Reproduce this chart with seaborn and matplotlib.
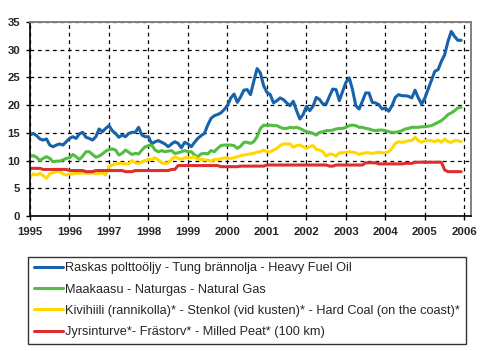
import numpy as np
import pandas as pd
import matplotlib
matplotlib.use("Agg")
import matplotlib.pyplot as plt
import seaborn as sns
from matplotlib.lines import Line2D

years = ["1995", "1996", "1997", "1998", "1999", "2000", "2001", "2002",
         "2003", "2004", "2005", "2006"]

heavy_fuel_oil = [
    14.6, 14.9, 14.5, 13.9, 13.7, 13.9, 12.8, 12.5, 12.8, 13.0, 12.8, 13.4,
    14.0, 14.3, 14.0, 14.8, 15.1, 14.2, 14.0, 13.7, 14.3, 15.7, 15.2, 15.8,
    16.3, 15.4, 14.9, 14.2, 14.6, 14.3, 14.9, 15.1, 15.1, 16.0, 14.6, 14.3,
    14.3, 13.0, 13.4, 13.6, 13.3, 13.0, 12.5, 13.0, 13.4, 13.1, 12.3, 13.3,
    13.0, 12.5, 13.3, 14.0, 14.5, 14.9, 16.4, 17.6, 18.1, 18.3, 18.6, 19.2,
    19.9, 21.3, 22.0, 20.5, 21.5, 22.7, 22.8, 21.9, 24.3, 26.6, 25.8, 23.5,
    22.3, 21.9, 20.4, 20.8, 21.3, 21.0, 20.4, 19.9, 20.7, 19.0, 17.5, 18.3,
    19.8, 19.0, 19.8, 21.4, 21.0, 20.2, 20.2, 21.6, 22.9, 22.8, 20.8, 22.5,
    24.1, 24.9, 22.8, 19.9, 19.3, 20.7, 22.2, 22.2, 20.5, 20.4, 20.1, 19.3,
    19.5, 18.9, 19.9, 21.4, 21.9, 21.7, 21.7, 21.6, 21.3, 22.7, 21.3, 20.2,
    21.3, 22.9, 24.5, 26.1, 26.4, 27.9, 29.1, 31.5, 33.3, 32.4, 31.7, 31.7,
]

natural_gas = [
    10.7, 10.9, 10.6, 10.0, 10.4, 10.7, 10.4, 9.8, 9.9, 9.9, 10.1, 10.4,
    10.5, 11.1, 10.7, 10.2, 10.8, 11.6, 11.6, 11.1, 10.6, 10.8, 11.2, 11.7,
    12.0, 12.1, 11.9, 11.0, 11.3, 11.9, 11.5, 11.1, 11.3, 11.2, 11.9, 12.5,
    12.7, 12.8, 11.9, 11.6, 11.8, 11.6, 11.7, 11.8, 11.3, 11.4, 11.6, 11.8,
    11.6, 11.6, 11.0, 10.7, 11.2, 11.3, 11.2, 11.8, 11.6, 12.2, 12.7, 12.8,
    12.8, 12.8, 12.7, 12.2, 12.6, 13.3, 13.3, 13.1, 13.4, 14.3, 15.8, 16.4,
    16.3, 16.4, 16.3, 16.3, 16.0, 15.8, 15.8, 16.0, 15.9, 16.0, 15.8, 15.5,
    15.2, 15.1, 14.9, 14.6, 15.1, 15.2, 15.4, 15.4, 15.5, 15.7, 15.8, 15.8,
    16.0, 16.3, 16.4, 16.3, 16.0, 16.0, 15.8, 15.7, 15.5, 15.4, 15.5, 15.5,
    15.4, 15.2, 15.1, 15.1, 15.2, 15.4, 15.7, 15.8, 16.0, 16.0, 16.0, 16.1,
    16.1, 16.2, 16.3, 16.6, 16.9, 17.2, 17.7, 18.3, 18.6, 19.0, 19.5, 19.6,
]

hard_coal = [
    7.1, 7.6, 7.4, 7.7, 7.3, 6.8, 7.6, 7.8, 8.0, 8.0, 7.6, 7.4,
    7.6, 7.6, 7.7, 7.7, 7.8, 7.7, 7.7, 7.8, 7.6, 7.7, 7.8, 7.4,
    8.9, 9.2, 9.4, 9.5, 9.5, 9.4, 9.4, 10.0, 9.6, 9.5, 9.8, 10.0,
    10.2, 10.2, 10.5, 10.1, 9.6, 9.5, 9.6, 10.2, 10.7, 10.4, 10.2, 10.5,
    10.5, 10.5, 10.7, 10.2, 10.2, 10.1, 10.1, 9.9, 10.2, 10.2, 10.3, 10.5,
    10.4, 10.4, 10.5, 10.7, 10.9, 11.0, 11.1, 11.2, 11.3, 11.5, 11.6, 11.9,
    11.6, 11.6, 11.9, 12.2, 12.7, 13.0, 13.0, 13.0, 12.4, 12.7, 12.8, 12.5,
    12.2, 12.5, 12.7, 12.0, 11.9, 11.6, 10.8, 11.2, 11.1, 10.8, 11.4, 11.4,
    11.5, 11.6, 11.5, 11.4, 11.1, 11.3, 11.4, 11.4, 11.3, 11.4, 11.5, 11.4,
    11.4, 11.6, 12.2, 13.1, 13.4, 13.3, 13.4, 13.6, 13.6, 14.2, 13.6, 13.3,
    13.6, 13.6, 13.6, 13.4, 13.7, 13.3, 13.9, 13.4, 13.3, 13.6, 13.6, 13.4,
]

milled_peat = [
    8.6, 8.6, 8.6, 8.6, 8.4, 8.4, 8.4, 8.4, 8.4, 8.4, 8.4, 8.4,
    8.2, 8.2, 8.2, 8.2, 8.2, 8.0, 8.0, 8.0, 8.2, 8.2, 8.2, 8.2,
    8.2, 8.2, 8.2, 8.2, 8.2, 8.0, 8.0, 8.0, 8.2, 8.2, 8.2, 8.2,
    8.2, 8.2, 8.2, 8.2, 8.2, 8.2, 8.2, 8.4, 8.4, 9.1, 9.1, 9.1,
    9.1, 9.1, 9.1, 9.1, 9.1, 9.1, 9.1, 9.1, 9.1, 9.1, 8.9, 8.9,
    8.9, 8.9, 8.9, 8.9, 9.0, 9.0, 9.0, 9.0, 9.0, 9.0, 9.0, 9.0,
    9.2, 9.2, 9.2, 9.2, 9.2, 9.2, 9.2, 9.2, 9.2, 9.2, 9.2, 9.2,
    9.2, 9.2, 9.2, 9.2, 9.2, 9.2, 9.2, 9.0, 9.0, 9.2, 9.2, 9.2,
    9.2, 9.2, 9.2, 9.2, 9.2, 9.2, 9.6, 9.6, 9.6, 9.6, 9.4, 9.4,
    9.4, 9.4, 9.4, 9.4, 9.4, 9.4, 9.5, 9.5, 9.5, 9.7, 9.7, 9.7,
    9.7, 9.7, 9.7, 9.7, 9.7, 9.7, 8.3, 8.0, 8.0, 8.0, 8.0, 8.0,
]

labels = [
    "Raskas polttoöljy - Tung brännolja - Heavy Fuel Oil",
    "Maakaasu - Naturgas - Natural Gas",
    "Kivihiili (rannikolla)* - Stenkol (vid kusten)* - Hard Coal (on the coast)*",
    "Jyrsinturve*- Frästorv* - Milled Peat* (100 km)",
]
colors = ["#1762AA", "#52BD42", "#FFD800", "#DE2E2E"]

series = [heavy_fuel_oil, natural_gas, hard_coal, milled_peat]
frames = []
for lab, vals in zip(labels, series):
    frames.append(pd.DataFrame({"month": np.arange(len(vals)), "value": vals, "series": lab}))
df = pd.concat(frames, ignore_index=True)

sns.set_style("white")
plt.rcParams["font.family"] = ["Liberation Sans", "DejaVu Sans"]
plt.rcParams["axes.grid"] = True
plt.rcParams["grid.color"] = "black"
plt.rcParams["grid.linestyle"] = "--"
plt.rcParams["grid.linewidth"] = 0.9
plt.rcParams["lines.dashed_pattern"] = (3.0, 3.0)
plt.rcParams["grid.alpha"] = 1.0

fig = plt.figure(figsize=(4.95, 3.51), dpi=100)
ax = fig.add_axes([30 / 495, 1 - 216 / 351, 441 / 495, (216 - 22) / 351])

sns.lineplot(data=df, x="month", y="value", hue="series", hue_order=labels,
             palette=colors, linewidth=2.2, ax=ax, legend=False, zorder=3)

ax.set_xlim(0, 134)
ax.set_ylim(0, 35)
ax.set_xticks(np.arange(0, 12 * len(years), 12))
ax.set_xticklabels(years, fontsize=8.2, fontweight="bold")
ax.set_yticks(np.arange(0, 36, 5))
ax.set_yticklabels([str(v) for v in range(0, 36, 5)], fontsize=8.2, fontweight="bold")
ax.set_xlabel("")
ax.set_ylabel("")
ax.tick_params(axis="both", direction="out", length=3, width=1, color="black",
               bottom=True, left=True)
ax.tick_params(axis="x", pad=5)
ax.tick_params(axis="y", pad=4)

ax.grid(True, which="major", axis="both", color="black", linestyle="--",
        linewidth=0.9, alpha=1.0)
ax.set_axisbelow(True)
for side in ["left", "bottom"]:
    ax.spines[side].set_color("black")
    ax.spines[side].set_linewidth(1.2)
    ax.spines[side].set_zorder(4)
for side in ["top", "right"]:
    ax.spines[side].set_color("#808080")
    ax.spines[side].set_linewidth(1.4)
    ax.spines[side].set_zorder(4)

handles = [Line2D([0], [0], color=c, linewidth=2.2) for c in colors]
leg = fig.legend(handles, labels, loc="upper left",
                 bbox_to_anchor=(28 / 495, 1 - 256.7 / 351),
                 fontsize=9.2, frameon=True, fancybox=False,
                 handlelength=2.3, handletextpad=0.15, labelspacing=0.72,
                 borderpad=0.45, borderaxespad=0, edgecolor="black")
leg.get_frame().set_linewidth(1.0)

fig.savefig("out.png", dpi=100)
